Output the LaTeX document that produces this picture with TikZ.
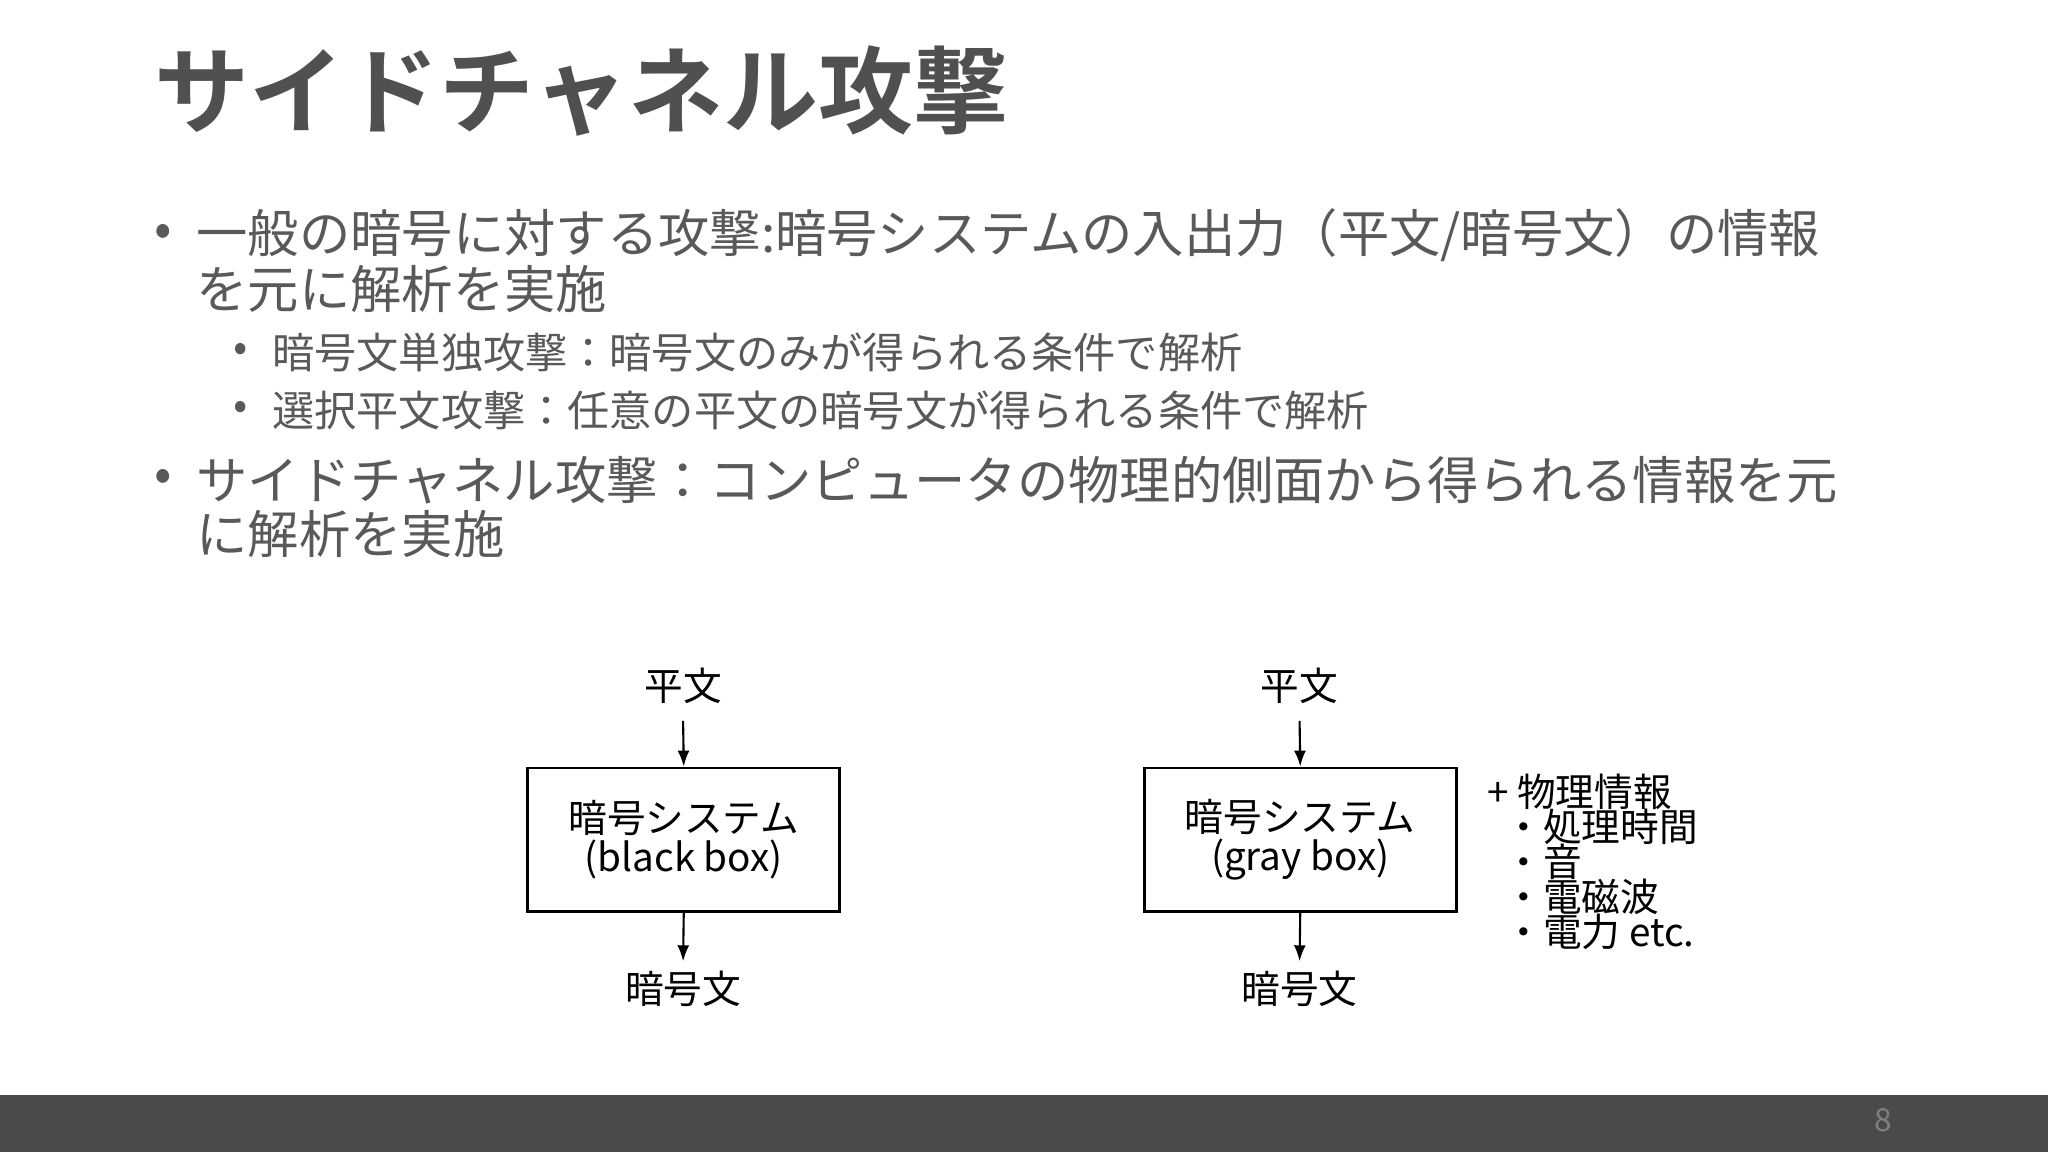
\documentclass[tikz,border=0pt]{standalone}
\usepackage{fontspec}
\setmainfont{Noto Sans CJK JP}
\newfontfamily\jpb{Noto Sans CJK JP Bold}
\definecolor{txt}{HTML}{595959}
\definecolor{ttl}{HTML}{505050}
\definecolor{bar}{HTML}{4A4A4A}
\newcommand{\fs}[1]{\fontsize{#1}{#1}\selectfont}
\begin{document}
\begin{tikzpicture}[x=0.013061cm,y=-0.013061cm,
  body/.style={anchor=west,inner sep=0,text=txt,font=\fs{14.6pt}},
  sub/.style={anchor=west,inner sep=0,text=txt,font=\fs{12pt}},
  lab/.style={inner sep=0,font=\fs{11pt}},
  sysbox/.style={draw,line width=0.8pt,minimum width=239*0.13061mm,minimum height=110*0.13061mm,align=center,font=\fs{11pt}},
  arr/.style={-{Latex[length=1.6mm,width=1.2mm]},line width=0.6pt}]
\usetikzlibrary{arrows.meta}
\useasboundingbox (0,0) rectangle (1568,882);
\fill[bar] (0,838) rectangle (1568,882);
\node[text=gray,font=\fs{9pt}] (pg) at (1442,858) {8};
\node[anchor=west,inner sep=0,text=ttl,font=\jpb\fs{27pt}] (title) at (118,70) {サイドチャネル攻撃};
\node[body] (b1) at (118,180) {•};
\node[body] (t1) at (150,180) {一般の暗号に対する攻撃:暗号システムの入出力（平文/暗号文）の情報};
\node[body] (t1b) at (150,221) {を元に解析を実施};
\node[sub] (b2) at (178,270) {•};
\node[sub] (t2) at (208,270) {暗号文単独攻撃：暗号文のみが得られる条件で解析};
\node[sub] (b3) at (178,314) {•};
\node[sub] (t3) at (208,314) {選択平文攻撃：任意の平文の暗号文が得られる条件で解析};
\node[body] (b4) at (118,368) {•};
\node[body] (t4) at (150,368) {サイドチャネル攻撃：コンピュータの物理的側面から得られる情報を元};
\node[body] (t4b) at (150,409) {に解析を実施};
% left
\node[lab] (p1) at (523,525) {平文};
\node[sysbox] (s1) at (523.5,643) {暗号システム\\(black box)};
\node[lab] (c1) at (523,757) {暗号文};
\draw[arr] (523,552) -- (s1.north);
\draw[arr] (s1.south) -- (523,736);
% right
\node[lab] (p2) at (995,525) {平文};
\node[sysbox] (s2) at (995.5,643) {暗号システム\\(gray box)};
\node[lab] (c2) at (995,757) {暗号文};
\draw[arr] (995,552) -- (s2.north);
\draw[arr] (s2.south) -- (995,736);
\node[anchor=north west,inner sep=0,align=left,font=\fs{11pt},text depth=0pt] (info) at (1138,592) {%
+ 物理情報\\[-1pt]
\ \ ・処理時間\\[-1pt]
\ \ ・音\\[-1pt]
\ \ ・電磁波\\[-1pt]
\ \ ・電力 etc.};
\end{tikzpicture}
\end{document}
